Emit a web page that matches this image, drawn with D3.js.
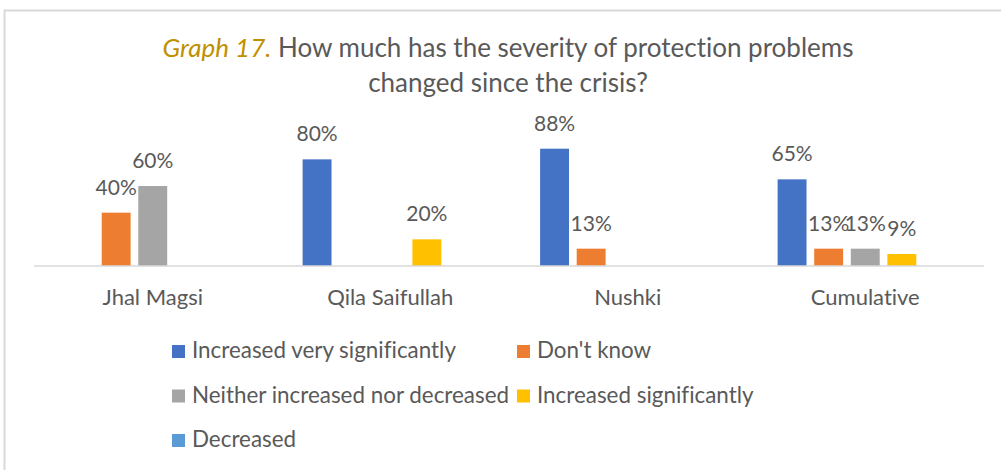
<!DOCTYPE html>
<html>
<head>
<meta charset="utf-8">
<script src="https://cdn.jsdelivr.net/npm/d3@7"></script>
<style>
  html, body { margin: 0; padding: 0; background: #fff; }
  svg { display: block; font-family: Lato, "Open Sans", sans-serif; font-variant-ligatures: none; }
</style>
</head>
<body>
<svg id="chart" width="1001" height="470"></svg>
<script>
// Survey districts plus the combined total
const categories = ["Jhal Magsi", "Qila Saifullah", "Nushki", "Cumulative"];

// Share of respondents per answer (percent)
const seriesNames = [
  "Increased very significantly",
  "Don't know",
  "Neither increased nor decreased",
  "Increased significantly",
  "Decreased"
];
const increasedVerySignificantly = [0, 80, 88, 65];
const dontKnow = [40, 0, 13, 13];
const neitherIncreasedNorDecreased = [60, 0, 0, 13];
const increasedSignificantly = [0, 20, 0, 9];
const decreased = [0, 0, 0, 0];

const seriesColors = ["#4472c4", "#ed7d31", "#a5a5a5", "#ffc000", "#5b9bd5"];

const titleLead = "Graph 17.";
const titleLine1 = " How much has the severity of protection problems";
const titleLine2 = "changed since the crisis?";

const seriesValues = [
  increasedVerySignificantly,
  dontKnow,
  neitherIncreasedNorDecreased,
  increasedSignificantly,
  decreased
];

const svg = d3.select("#chart");
const textColor = "#595959";

// Chart frame (only top and left edges fall inside the view)
svg.append("rect")
  .attr("x", 4.5).attr("y", 10.5)
  .attr("width", 1200).attr("height", 800)
  .attr("fill", "none")
  .attr("stroke", "#d9d9d9")
  .attr("stroke-width", 2);

// Title
const title = svg.append("g")
  .attr("fill", textColor)
  .attr("font-size", 26)
  .attr("text-anchor", "middle");
const t1 = title.append("text").attr("x", 508).attr("y", 57);
t1.append("tspan").attr("fill", "#bf9000").attr("font-style", "italic").text(titleLead);
t1.append("tspan").text(titleLine1);
title.append("text").attr("x", 508).attr("y", 92).text(titleLine2);

// Scales
const baseY = 266;
const y = d3.scaleLinear().domain([0, 100]).range([baseY, baseY - 133.3]);
const x0 = d3.scaleBand().domain(categories).range([34, 984]).padding(0);
const x1 = d3.scaleBand().domain(seriesNames)
  .range([0, x0.bandwidth()])
  .paddingInner(0.21)
  .paddingOuter(0.85);

const rows = [];
categories.forEach((c, ci) => {
  seriesNames.forEach((s, si) => {
    rows.push({ cat: c, series: s, idx: si, value: seriesValues[si][ci] });
  });
});

// Bars
const plot = svg.append("g");
plot.selectAll("rect.bar")
  .data(rows.filter(d => d.value > 0))
  .join("rect")
  .attr("class", "bar")
  .attr("x", d => x0(d.cat) + x1(d.series))
  .attr("width", x1.bandwidth())
  .attr("y", d => y(d.value))
  .attr("height", d => y(0) - y(d.value))
  .attr("fill", d => seriesColors[d.idx]);

// Category axis line
svg.append("line")
  .attr("x1", x0.range()[0]).attr("x2", x0.range()[1])
  .attr("y1", baseY).attr("y2", baseY)
  .attr("stroke", "#d9d9d9")
  .attr("stroke-width", 1.5);

// Category labels
const xAxis = d3.axisBottom(x0).tickSize(0).tickPadding(0);
const axisG = svg.append("g")
  .attr("transform", `translate(0,${baseY})`)
  .call(xAxis);
axisG.select(".domain").remove();
axisG.selectAll("text")
  .attr("fill", textColor)
  .attr("font-size", 22)
  .attr("font-family", "Lato, 'Open Sans', sans-serif")
  .attr("dy", null)
  .attr("y", 39);

// Value labels
plot.selectAll("text.val")
  .data(rows.filter(d => d.value > 0))
  .join("text")
  .attr("class", "val")
  .attr("x", d => x0(d.cat) + x1(d.series) + x1.bandwidth() / 2)
  .attr("y", d => y(d.value) - 18)
  .attr("text-anchor", "middle")
  .attr("font-size", 21)
  .attr("fill", textColor)
  .text(d => d.value + "%");

// Legend: two columns, filled row by row
const legendCols = [172, 517];
const legendRows = [358, 402.5, 447];
const legend = svg.append("g");
const items = legend.selectAll("g")
  .data(seriesNames)
  .join("g")
  .attr("transform", (d, i) => `translate(${legendCols[i % 2]},${legendRows[Math.floor(i / 2)]})`);
items.append("rect")
  .attr("x", 0).attr("y", -13)
  .attr("width", 13).attr("height", 13)
  .attr("fill", (d, i) => seriesColors[i]);
items.append("text")
  .attr("x", 20).attr("y", 0)
  .attr("font-size", 22.4)
  .attr("fill", textColor)
  .text(d => d);
</script>
</body>
</html>
